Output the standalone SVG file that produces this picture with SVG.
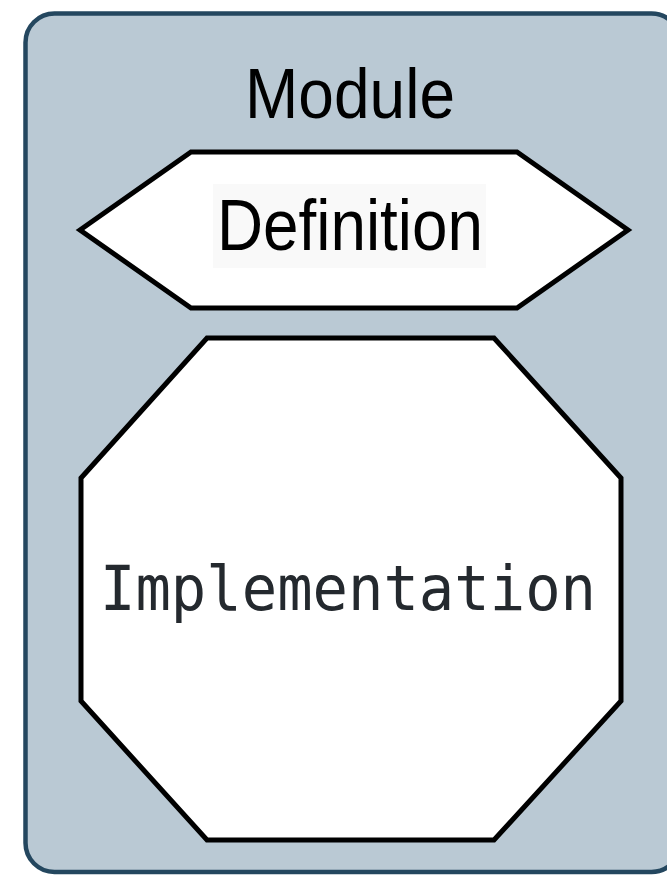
<svg xmlns="http://www.w3.org/2000/svg" width="667" height="875" viewBox="0 0 667 875">
<style>
.shape{fill:#ffffff;stroke:#000000;stroke-width:5;stroke-linejoin:miter}
.sans{font-family:"Liberation Sans",Arial,sans-serif;fill:#000000}
.mono{font-family:"DejaVu Sans Mono","Liberation Mono",monospace;fill:#24292e}
</style>
<rect width="667" height="875" fill="#ffffff"/>
<g id="module">
<rect x="25.5" y="13.5" width="655" height="858.5" rx="29" ry="29" fill="#bac9d4" stroke="#24475f" stroke-width="4.5"/>
<text class="sans" x="350" y="118" font-size="71" text-anchor="middle" textLength="210" lengthAdjust="spacingAndGlyphs">Module</text>
</g>
<g id="definition">
<polygon class="shape" points="80,230 191,152 517,152 628,230 517,308 191,308"/>
<rect x="213" y="184" width="273" height="84" fill="#f9f9f9"/>
<text class="sans" x="350" y="250" font-size="72" text-anchor="middle" textLength="266" lengthAdjust="spacingAndGlyphs">Definition</text>
</g>
<g id="implementation">
<polygon class="shape" points="207,338 494,338 621,478 621,701 494,840 207,840 81,701 81,478"/>
<text class="mono" x="348" y="610" font-size="62" text-anchor="middle" textLength="496" lengthAdjust="spacingAndGlyphs">Implementation</text>
</g>
<g id="connectors"/>
</svg>
